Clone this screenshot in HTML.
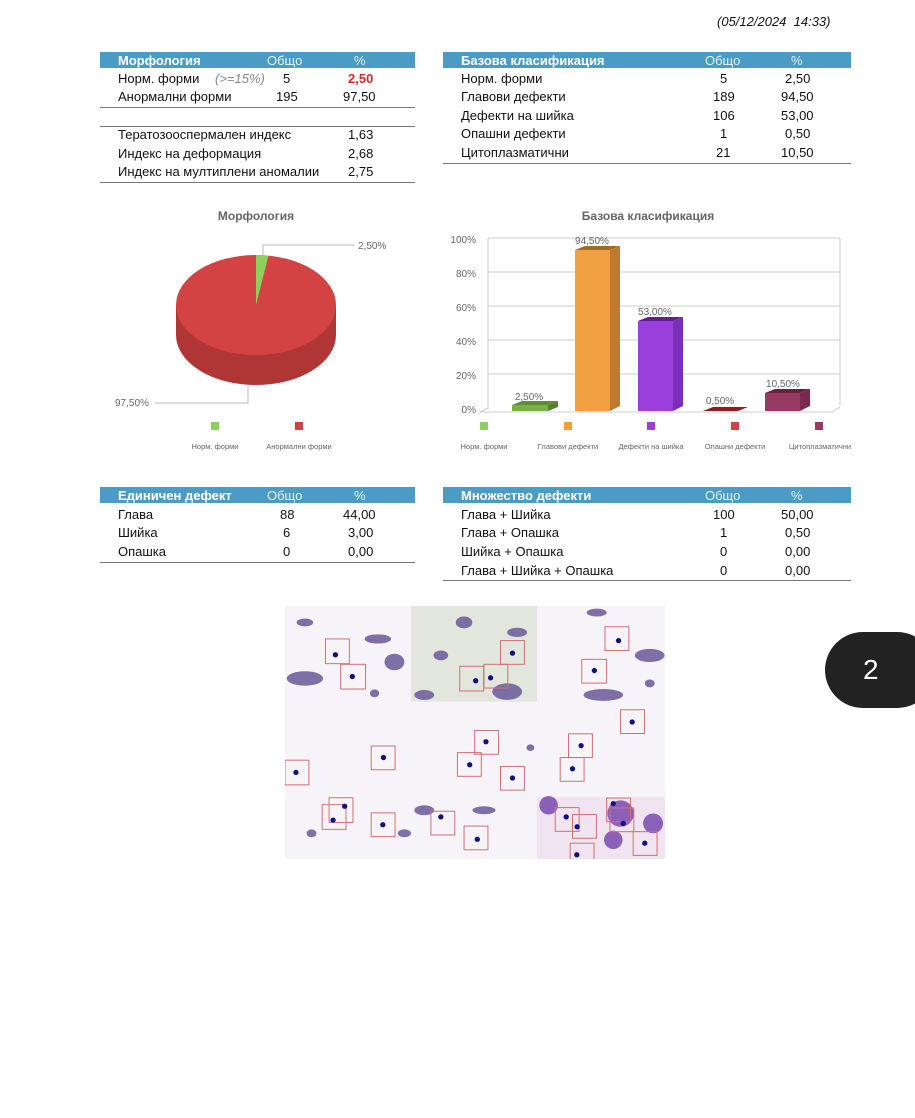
<!DOCTYPE html>
<html><head><meta charset="utf-8"><style>
body{margin:0;width:915px;height:1118px;background:#fff;position:relative;font-family:"Liberation Sans",sans-serif;color:#111;overflow:hidden}
.a{position:absolute;white-space:nowrap}
.t{font-size:13px}
.hd{position:absolute;height:16px;background:#4a9bc6;color:#fff;font-size:13px}
.hd b{position:absolute;top:1px}
.hd span{position:absolute;top:1px;color:#e8f2f8}
.ln{position:absolute;height:1px;background:#777}
</style></head><body>
<div class="a" style="left:717px;top:14px;font-size:13px;font-style:italic">(05/12/2024&nbsp; 14:33)</div>

<!-- table 1 -->
<div class="hd" style="left:100px;top:52px;width:315px"><b style="left:18px">Морфология</b><span style="left:167px">Общо</span><span style="left:254px">%</span></div>
<div class="a t" style="left:118px;top:71px">Норм. форми</div><div class="a t" style="left:215px;top:71px;color:#888;font-style:italic">(&gt;=15%)</div><div class="a t" style="left:283px;top:71px">5</div><div class="a t" style="left:348px;top:71px;color:#d42a2a;font-weight:bold">2,50</div>
<div class="a t" style="left:118px;top:89px">Анормални форми</div><div class="a t" style="left:276px;top:89px">195</div><div class="a t" style="left:343px;top:89px">97,50</div>
<div class="ln" style="left:100px;top:107px;width:315px"></div>
<div class="ln" style="left:100px;top:126px;width:315px"></div>
<div class="a t" style="left:118px;top:127px">Тератозооспермален индекс</div><div class="a t" style="left:348px;top:127px">1,63</div>
<div class="a t" style="left:118px;top:146px">Индекс на деформация</div><div class="a t" style="left:348px;top:146px">2,68</div>
<div class="a t" style="left:118px;top:164px">Индекс на мултиплени аномалии</div><div class="a t" style="left:348px;top:164px">2,75</div>
<div class="ln" style="left:100px;top:182px;width:315px"></div>

<!-- table 2 -->
<div class="hd" style="left:443px;top:52px;width:408px"><b style="left:18px">Базова класификация</b><span style="left:262px">Общо</span><span style="left:348px">%</span></div>
<div class="a t" style="left:461px;top:71px">Норм. форми</div><div class="a t" style="left:720px;top:71px">5</div><div class="a t" style="left:785px;top:71px">2,50</div>
<div class="a t" style="left:461px;top:89px">Главови дефекти</div><div class="a t" style="left:713px;top:89px">189</div><div class="a t" style="left:781px;top:89px">94,50</div>
<div class="a t" style="left:461px;top:108px">Дефекти на шийка</div><div class="a t" style="left:713px;top:108px">106</div><div class="a t" style="left:781px;top:108px">53,00</div>
<div class="a t" style="left:461px;top:126px">Опашни дефекти</div><div class="a t" style="left:720px;top:126px">1</div><div class="a t" style="left:785px;top:126px">0,50</div>
<div class="a t" style="left:461px;top:145px">Цитоплазматични</div><div class="a t" style="left:716px;top:145px">21</div><div class="a t" style="left:781px;top:145px">10,50</div>
<div class="ln" style="left:443px;top:163px;width:408px"></div>

<!-- pie -->
<svg class="a" style="left:100px;top:200px" width="340" height="260">
<text x="156" y="20" font-size="12" font-weight="bold" fill="#666" text-anchor="middle" font-family="Liberation Sans">Морфология</text>
<path d="M76 105 L76 135 A80 50 0 0 0 236 135 L236 105 Z" fill="#b03535"/>
<ellipse cx="156" cy="105" rx="80" ry="50" fill="#d44343"/>
<path d="M156 105 L156 55 A80 50 0 0 1 168.5 55.6 Z" fill="#8ccf5a"/>
<polyline points="163,57 163,45 255,45" fill="none" stroke="#bbb"/>
<text x="258" y="49" font-size="10" fill="#666" font-family="Liberation Sans">2,50%</text>
<polyline points="148,186 148,203 55,203" fill="none" stroke="#bbb"/>
<text x="15" y="206" font-size="10" fill="#666" font-family="Liberation Sans">97,50%</text>
<rect x="111" y="222" width="8" height="8" fill="#8ccf5a"/>
<rect x="195" y="222" width="8" height="8" fill="#d44343"/>
<text x="115" y="249" font-size="7.5" fill="#666" text-anchor="middle" font-family="Liberation Sans">Норм. форми</text>
<text x="199" y="249" font-size="7.5" fill="#666" text-anchor="middle" font-family="Liberation Sans">Анормални форми</text>
</svg>

<!-- bar chart -->
<svg class="a" style="left:440px;top:200px" width="420" height="260" font-family="Liberation Sans">
<text x="208" y="20" font-size="12" font-weight="bold" fill="#666" text-anchor="middle">Базова класификация</text>
<g stroke="#ccc" fill="none">
<line x1="48" y1="38" x2="400" y2="38"/><line x1="48" y1="72" x2="400" y2="72"/><line x1="48" y1="106" x2="400" y2="106"/><line x1="48" y1="140" x2="400" y2="140"/><line x1="48" y1="174" x2="400" y2="174"/>
<line x1="48" y1="38" x2="48" y2="209"/><line x1="400" y1="38" x2="400" y2="205"/>
<polyline points="40,212 392,212 400,207"/><line x1="40" y1="212" x2="48" y2="208"/>
</g>
<g font-size="10" fill="#666" text-anchor="end">
<text x="36" y="43">100%</text><text x="36" y="77">80%</text><text x="36" y="111">60%</text><text x="36" y="145">40%</text><text x="36" y="179">20%</text><text x="36" y="213">0%</text>
</g>
<!-- bars -->
<g>
<rect x="72" y="205" width="36" height="6" fill="#7ab04a"/><polygon points="72,205 82,201 118,201 108,205" fill="#5f8f35"/><polygon points="108,205 118,201 118,207 108,211" fill="#56802f"/>
<rect x="135" y="50" width="35" height="161" fill="#f0a040"/><polygon points="135,50 145,46 180,46 170,50" fill="#a36a25"/><polygon points="170,50 180,46 180,206 170,211" fill="#c07a30"/>
<rect x="198" y="121" width="35" height="90" fill="#9b3fdc"/><polygon points="198,121 208,117 243,117 233,121" fill="#5e2090"/><polygon points="233,121 243,117 243,206 233,211" fill="#7a2fb8"/>
<polygon points="263,211 273,207 308,207 298,211" fill="#8a2020"/>
<rect x="325" y="193" width="35" height="18" fill="#953a60"/><polygon points="325,193 335,189 370,189 360,193" fill="#6a2040"/><polygon points="360,193 370,189 370,206 360,211" fill="#7a2a4e"/>
</g>
<g font-size="10" fill="#666" text-anchor="middle">
<text x="89" y="200">2,50%</text><text x="152" y="44">94,50%</text><text x="215" y="115">53,00%</text><text x="280" y="204">0,50%</text><text x="343" y="187">10,50%</text>
</g>
<rect x="40" y="222" width="8" height="8" fill="#8ccf5a"/><rect x="124" y="222" width="8" height="8" fill="#f0a040"/><rect x="207" y="222" width="8" height="8" fill="#9b3fdc"/><rect x="291" y="222" width="8" height="8" fill="#d44343"/><rect x="375" y="222" width="8" height="8" fill="#953a60"/>
<g font-size="7.5" fill="#666" text-anchor="middle">
<text x="44" y="249">Норм. форми</text><text x="128" y="249">Главови дефекти</text><text x="211" y="249">Дефекти на шийка</text><text x="295" y="249">Опашни дефекти</text><text x="380" y="249">Цитоплазматични</text>
</g>
</svg>

<!-- table 3 -->
<div class="hd" style="left:100px;top:487px;width:315px"><b style="left:18px">Единичен дефект</b><span style="left:167px">Общо</span><span style="left:254px">%</span></div>
<div class="a t" style="left:118px;top:507px">Глава</div><div class="a t" style="left:280px;top:507px">88</div><div class="a t" style="left:343px;top:507px">44,00</div>
<div class="a t" style="left:118px;top:525px">Шийка</div><div class="a t" style="left:283px;top:525px">6</div><div class="a t" style="left:348px;top:525px">3,00</div>
<div class="a t" style="left:118px;top:544px">Опашка</div><div class="a t" style="left:283px;top:544px">0</div><div class="a t" style="left:348px;top:544px">0,00</div>
<div class="ln" style="left:100px;top:562px;width:315px"></div>

<!-- table 4 -->
<div class="hd" style="left:443px;top:487px;width:408px"><b style="left:18px">Множество дефекти</b><span style="left:262px">Общо</span><span style="left:348px">%</span></div>
<div class="a t" style="left:461px;top:507px">Глава + Шийка</div><div class="a t" style="left:713px;top:507px">100</div><div class="a t" style="left:781px;top:507px">50,00</div>
<div class="a t" style="left:461px;top:525px">Глава + Опашка</div><div class="a t" style="left:720px;top:525px">1</div><div class="a t" style="left:785px;top:525px">0,50</div>
<div class="a t" style="left:461px;top:544px">Шийка + Опашка</div><div class="a t" style="left:720px;top:544px">0</div><div class="a t" style="left:785px;top:544px">0,00</div>
<div class="a t" style="left:461px;top:563px">Глава + Шийка + Опашка</div><div class="a t" style="left:720px;top:563px">0</div><div class="a t" style="left:785px;top:563px">0,00</div>
<div class="ln" style="left:443px;top:580px;width:408px"></div>

<!-- microscopy image -->
<svg class="a" style="left:285px;top:606px" width="380" height="253" viewBox="0 0 1146 768" preserveAspectRatio="none">
<rect width="1146" height="768" fill="#f6f4f8"/>
<rect x="380" y="0" width="380" height="290" fill="#e2e6dc"/>
<rect x="760" y="580" width="386" height="188" fill="#efe4f0"/>
<g fill="#6a5a98" opacity="0.85">
<ellipse cx="60" cy="220" rx="55" ry="22"/><ellipse cx="280" cy="100" rx="40" ry="14"/><ellipse cx="330" cy="170" rx="30" ry="25"/><ellipse cx="60" cy="50" rx="25" ry="12"/><ellipse cx="270" cy="265" rx="14" ry="12"/>
<ellipse cx="420" cy="270" rx="30" ry="15"/><ellipse cx="670" cy="260" rx="45" ry="25"/><ellipse cx="540" cy="50" rx="25" ry="18"/><ellipse cx="470" cy="150" rx="22" ry="15"/><ellipse cx="700" cy="80" rx="30" ry="14"/>
<ellipse cx="1100" cy="150" rx="45" ry="20"/><ellipse cx="940" cy="20" rx="30" ry="12"/><ellipse cx="960" cy="270" rx="60" ry="18"/><ellipse cx="1100" cy="235" rx="15" ry="12"/>
<ellipse cx="80" cy="690" rx="15" ry="12"/><ellipse cx="360" cy="690" rx="20" ry="12"/><ellipse cx="420" cy="620" rx="30" ry="15"/><ellipse cx="600" cy="620" rx="35" ry="12"/><ellipse cx="740" cy="430" rx="12" ry="10"/>
</g>
<g fill="#7a4ab0" opacity="0.85"><circle cx="795" cy="605" r="28"/><circle cx="1012" cy="630" r="40"/><circle cx="990" cy="710" r="28"/><circle cx="1110" cy="660" r="30"/></g>
<g fill="none" stroke="#d07070" stroke-width="3">
<rect x="122" y="100" width="72" height="75"/><rect x="168" y="177" width="75" height="75"/><rect x="650" y="105" width="72" height="72"/><rect x="527" y="183" width="72" height="75"/><rect x="600" y="177" width="72" height="72"/><rect x="965" y="63" width="72" height="72"/><rect x="895" y="162" width="75" height="72"/><rect x="1012" y="315" width="72" height="72"/><rect x="572" y="378" width="72" height="72"/><rect x="855" y="388" width="72" height="72"/><rect x="260" y="425" width="72" height="72"/><rect x="0" y="468" width="72" height="75"/><rect x="520" y="445" width="72" height="72"/><rect x="830" y="460" width="72" height="72"/><rect x="650" y="487" width="72" height="72"/><rect x="133" y="582" width="72" height="75"/><rect x="112" y="603" width="72" height="75"/><rect x="260" y="628" width="72" height="72"/><rect x="440" y="623" width="72" height="72"/><rect x="540" y="668" width="72" height="72"/><rect x="815" y="612" width="72" height="72"/><rect x="867" y="633" width="72" height="72"/><rect x="970" y="583" width="72" height="72"/><rect x="980" y="613" width="72" height="72"/><rect x="1050" y="685" width="72" height="72"/><rect x="860" y="720" width="72" height="50"/>
</g>
<g fill="#101080">
<circle cx="152" cy="148" r="8"/><circle cx="203" cy="214" r="8"/><circle cx="686" cy="143" r="8"/><circle cx="575" cy="227" r="8"/><circle cx="620" cy="218" r="8"/><circle cx="1006" cy="105" r="8"/><circle cx="933" cy="196" r="8"/><circle cx="1047" cy="352" r="8"/><circle cx="606" cy="412" r="8"/><circle cx="893" cy="424" r="8"/><circle cx="297" cy="460" r="8"/><circle cx="33" cy="505" r="8"/><circle cx="557" cy="482" r="8"/><circle cx="867" cy="494" r="8"/><circle cx="686" cy="522" r="8"/><circle cx="180" cy="608" r="8"/><circle cx="145" cy="650" r="8"/><circle cx="295" cy="664" r="8"/><circle cx="470" cy="640" r="8"/><circle cx="580" cy="708" r="8"/><circle cx="848" cy="640" r="8"/><circle cx="881" cy="670" r="8"/><circle cx="990" cy="600" r="8"/><circle cx="1020" cy="660" r="8"/><circle cx="1085" cy="720" r="8"/><circle cx="880" cy="755" r="8"/>
</g>
</svg>

<!-- page tab -->
<div class="a" style="left:825px;top:632px;width:110px;height:76px;background:#222;border-radius:38px;color:#fff;font-size:28px;line-height:76px;padding-left:38px;box-sizing:border-box">2</div>
</body></html>
